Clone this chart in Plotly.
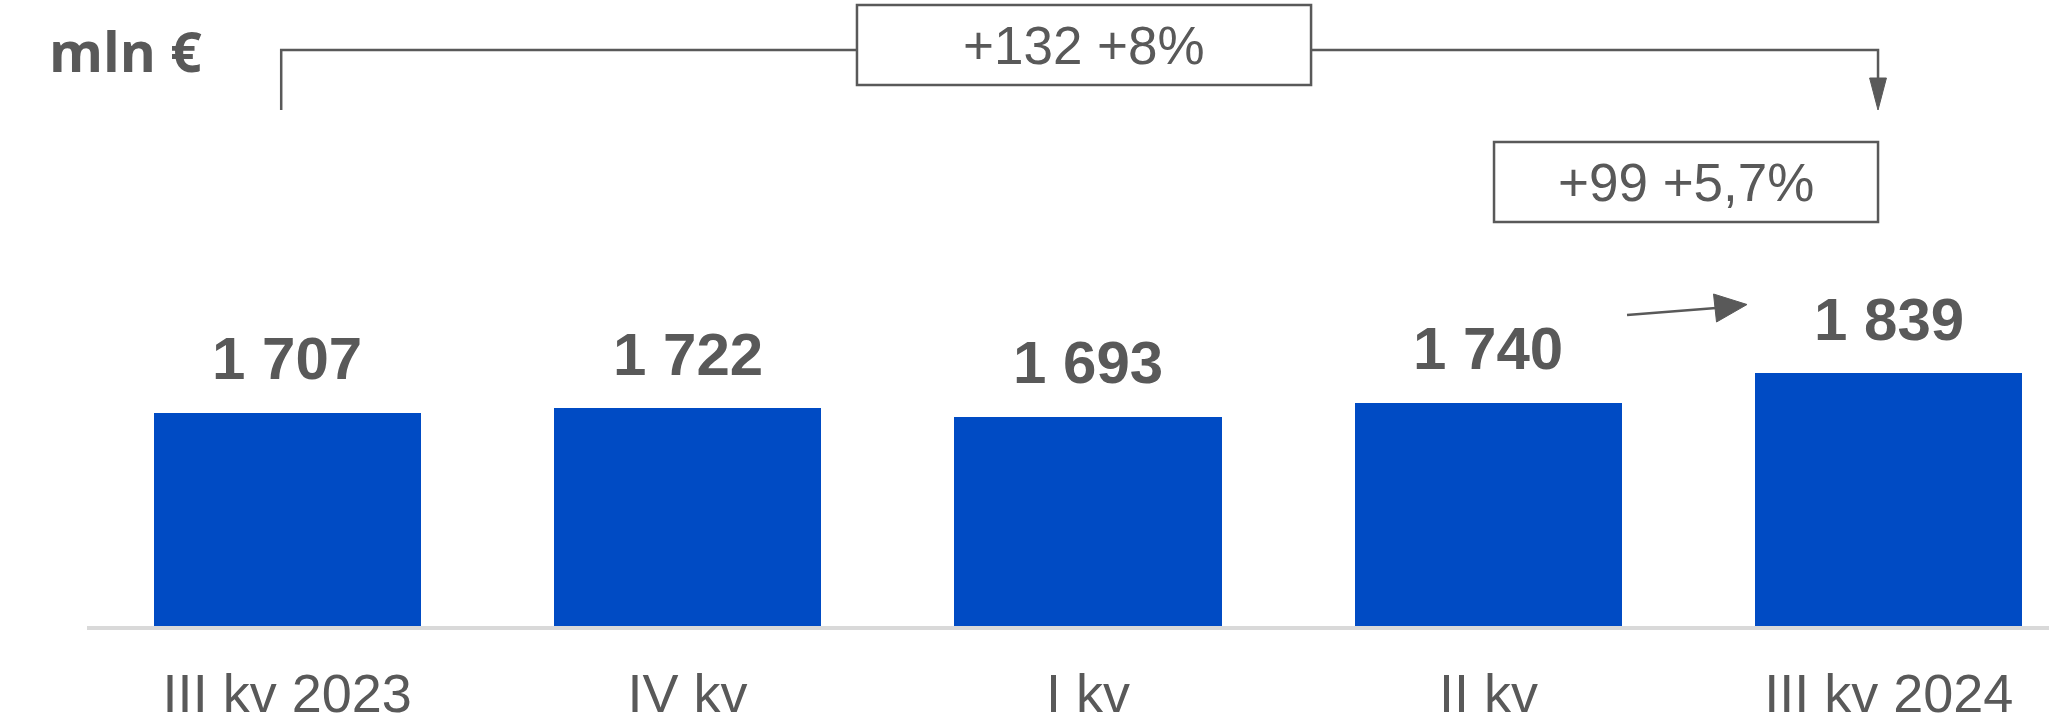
import plotly.graph_objects as go

# ---- data ----
categories = ["III kv 2023", "IV kv", "I kv", "II kv", "III kv 2024"]
values = [1707, 1722, 1693, 1740, 1839]
unit_label = "mln €"

# ---- styling ----
W, H = 2049, 715
ML, MB, MT = 87, 89, 0
PLOT_H = H - MB - MT
BAR_COLOR = "#004BC4"
TEXT = "#595959"
AXIS_GRAY = "#D9D9D9"
Y_MIN, Y_MAX = 986, 3100


def py(px):
    """pixel row (from top of plot area) -> paper y"""
    return 1 - px / PLOT_H


def fmt(v):
    return f"{v:,}".replace(",", " ")


fig = go.Figure()
fig.add_trace(go.Bar(
    x=list(range(len(categories))), y=values,
    marker=dict(color=BAR_COLOR, line=dict(width=0)),
    width=0.667, hoverinfo="skip",
))

annotations = []
shapes = []

# value labels
for i, v in enumerate(values):
    annotations.append(dict(
        x=i, y=v, xref="x", yref="y", text=fmt(v), showarrow=False,
        yanchor="middle", yshift=54,
        font=dict(family="Liberation Sans", size=60, color=TEXT, weight="bold"),
    ))

# unit label
annotations.append(dict(
    x=-40 / (W - ML), y=py(50), xref="paper", yref="paper", text=unit_label,
    showarrow=False, xanchor="left", yanchor="middle",
    font=dict(family="Open Sans", size=55, color=TEXT, weight="bold"),
))

# changes
first, last, prev = values[0], values[-1], values[-2]
d_all = last - first
p_all = d_all / first * 100
d_q = last - prev
p_q = d_q / prev * 100
txt_all = f"+{d_all} +{p_all:.0f}%"
txt_q = f"+{d_q} +{p_q:.1f}%".replace(".", ",")

line = dict(color=TEXT, width=2.5)
xl, xr = 0 - 0.015, 4 - 0.027
# big bracket
shapes.append(dict(type="path", xref="x", yref="paper",
                   path=f"M {xl},{py(110)} L {xl},{py(50)} L {xr},{py(50)} L {xr},{py(80)}",
                   line=line))
shapes.append(dict(type="path", xref="x", yref="paper",
                   path=f"M {xr-0.021},{py(78)} L {xr+0.021},{py(78)} L {xr},{py(110)} Z",
                   fillcolor=TEXT, line=dict(color=TEXT, width=1)))
# box 1
shapes.append(dict(type="rect", xref="x", yref="paper",
                   x0=1.423, x1=2.557, y0=py(85), y1=py(5),
                   fillcolor="white", line=line))
annotations.append(dict(x=1.99, y=py(46), xref="x", yref="paper", text=txt_all,
                        showarrow=False, yanchor="middle", xanchor="center",
                        font=dict(family="Liberation Sans", size=53, color=TEXT)))
# box 2
shapes.append(dict(type="rect", xref="x", yref="paper",
                   x0=3.014, x1=xr, y0=py(222), y1=py(142),
                   fillcolor="white", line=line))
annotations.append(dict(x=(3.014 + xr) / 2, y=py(182), xref="x", yref="paper", text=txt_q,
                        showarrow=False, yanchor="middle", xanchor="center",
                        font=dict(family="Liberation Sans", size=53, color=TEXT)))


# small arrow between bar 4 and 5
def dx(px):
    return (px - ML) / 400.4 - 0.5


shapes.append(dict(type="path", xref="x", yref="paper",
                   path=f"M {dx(1627)},{py(315)} L {dx(1716)},{py(308)}",
                   line=line))
shapes.append(dict(type="path", xref="x", yref="paper",
                   path=f"M {dx(1716.5)},{py(322)} L {dx(1747)},{py(304.5)} L {dx(1713.5)},{py(294)} Z",
                   fillcolor=TEXT, line=dict(color=TEXT, width=1)))

fig.update_layout(
    width=W, height=H,
    margin=dict(l=ML, r=0, t=MT, b=MB, pad=0),
    paper_bgcolor="white", plot_bgcolor="white",
    showlegend=False,
    annotations=annotations, shapes=shapes,
    bargap=0,
)
fig.update_xaxes(
    range=[-0.5, 4.4], tickmode="array", tickvals=list(range(len(categories))),
    ticktext=categories, showgrid=False, zeroline=False,
    showline=True, linecolor=AXIS_GRAY, linewidth=4, ticks="",
    tickfont=dict(family="Liberation Sans", size=54, color=TEXT),
    ticklabelstandoff=17, automargin=False, fixedrange=True,
)
fig.update_yaxes(
    range=[Y_MIN, Y_MAX], visible=False, showgrid=False, zeroline=False,
    automargin=False, fixedrange=True,
)

fig.write_html("out.html", config={"displayModeBar": False},
               post_script="document.body.style.margin='0';")
